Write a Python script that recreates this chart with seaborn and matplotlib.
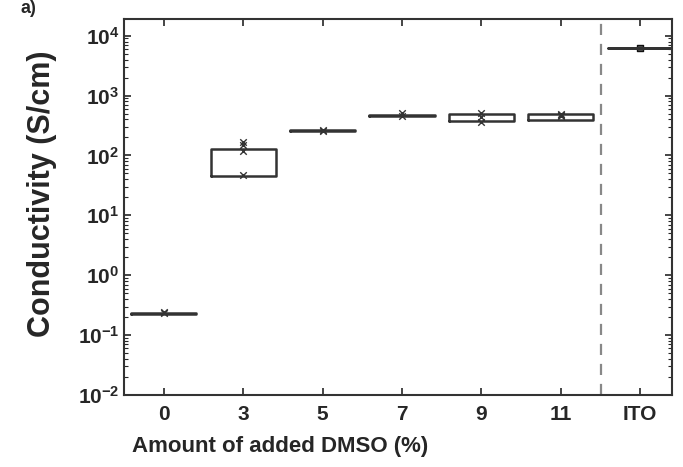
import pandas as pd
import seaborn as sns
import matplotlib
import matplotlib.pyplot as plt
import numpy as np

sns.set_style('white')
matplotlib.rcParams['font.family'] = ['Liberation Sans', 'DejaVu Sans']
matplotlib.rcParams['font.weight'] = 'bold'
matplotlib.rcParams['mathtext.fontset'] = 'custom'
matplotlib.rcParams['mathtext.bf'] = 'Liberation Sans:bold'
matplotlib.rcParams['mathtext.rm'] = 'Liberation Sans:bold'

# data
groups = ['0', '3', '5', '7', '9', '11', 'ITO']
box_low = [0.226, 46, 258, 448, 372, 398, 6250]
box_high = [0.234, 126, 266, 465, 495, 489, 6350]
point_group = ['0', '0', '3', '3', '3', '3', '5', '5', '7', '7',
               '9', '9', '9', '11', '11', '11']
point_value = [0.23, 0.24, 47, 120, 148, 168, 260, 265, 455, 520,
               365, 440, 510, 455, 470, 495]
ito_value = [6300]

ytick_vals = [1e-2, 1e-1, 1e0, 1e1, 1e2, 1e3, 1e4]
ytick_labels = [r'$\mathbf{10^{-2}}$', r'$\mathbf{10^{-1}}$', r'$\mathbf{10^{0}}$',
                r'$\mathbf{10^{1}}$', r'$\mathbf{10^{2}}$', r'$\mathbf{10^{3}}$',
                r'$\mathbf{10^{4}}$']

fig = plt.figure(figsize=(6.83, 4.67), dpi=100)
ax = fig.add_axes([0.1816, 0.1542, 0.8024, 0.8051])
ax.set_yscale('log')

stats = []
for g, lo, hi in zip(groups, box_low, box_high):
    stats.append({'label': g, 'q1': lo, 'q3': hi, 'med': lo,
                  'whislo': lo, 'whishi': hi, 'fliers': []})
ax.bxp(stats, positions=range(len(groups)), widths=0.82, showfliers=False,
       boxprops=dict(color='#333333', linewidth=1.8),
       medianprops=dict(linewidth=0), whiskerprops=dict(linewidth=0),
       capprops=dict(linewidth=0))

pts = pd.DataFrame({'group': point_group, 'value': point_value})
pts['pos'] = [groups.index(g) for g in pts.group]
sns.scatterplot(data=pts, x='pos', y='value', marker='x', color='#333333',
                s=22, linewidth=1.0, ax=ax)
sns.scatterplot(x=[groups.index('ITO')], y=ito_value, marker='s', color='#555555',
                edgecolor='#111111', s=18, linewidth=1.0, ax=ax)

ax.axvline(5.5, color='#888888', linestyle=(0, (5, 4)), linewidth=1.6)

ax.set_xlim(-0.5, 6.4)
ax.set_ylim(1e-2, 1.9e4)
ax.set_xticks(range(len(groups)))
ax.set_xticklabels(groups)
ax.set_yticks(ytick_vals)
ax.set_yticklabels(ytick_labels)
ax.tick_params(axis='both', which='both', direction='in', top=True, right=True,
               left=True, bottom=True, labelsize=15)
ax.tick_params(axis='both', which='major', length=5, width=1.2)
ax.tick_params(axis='y', which='minor', length=3, width=0.8)
ax.tick_params(axis='x', pad=7)
for s in ax.spines.values():
    s.set_linewidth(1.5)
    s.set_color('#333333')

ax.set_xlabel('Amount of added DMSO (%)', fontsize=16, fontweight='bold')
ax.xaxis.set_label_coords(0.285, -0.11)
ax.set_ylabel('Conductivity (S/cm)', fontsize=22, fontweight='bold')
ax.yaxis.set_label_coords(-0.122, 0.535)
fig.text(0.03, 1.0, 'a)', fontsize=13, fontweight='bold', va='top')

plt.savefig('out.png', dpi=100)
